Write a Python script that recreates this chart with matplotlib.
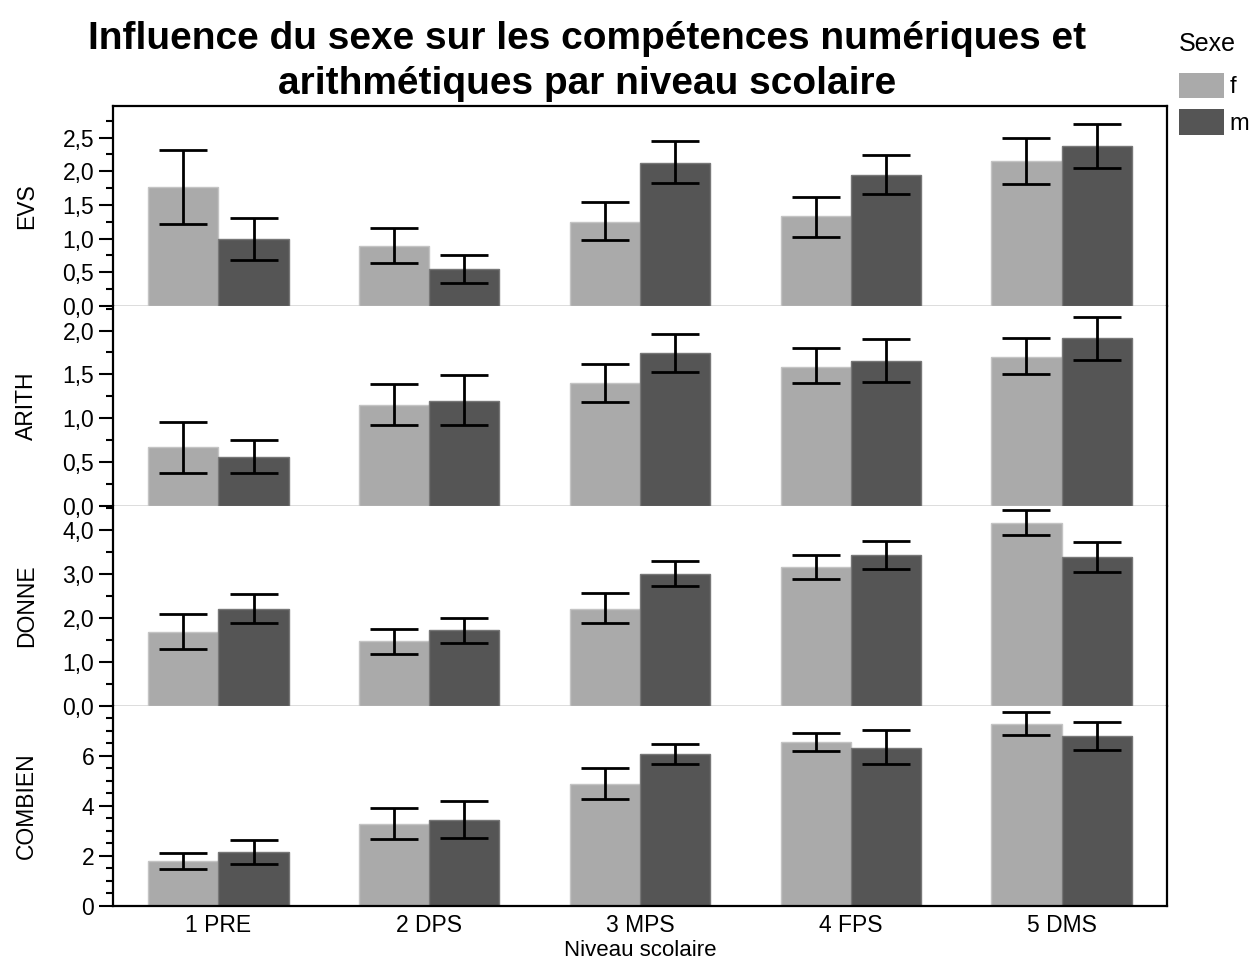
import numpy as np
import matplotlib
matplotlib.use("Agg")
import matplotlib.pyplot as plt
from matplotlib.patches import Patch
from matplotlib.ticker import FuncFormatter, MultipleLocator

plt.rcParams['font.family'] = ['Liberation Sans', 'DejaVu Sans']

# data
levels = ['1 PRE', '2 DPS', '3 MPS', '4 FPS', '5 DMS']
measures = ['EVS', 'ARITH', 'DONNE', 'COMBIEN']

# means, lower and upper bound of error bars, per measure, for f and m
evs_f = [1.77, 0.89, 1.25, 1.33, 2.15]
evs_f_lo = [1.22, 0.64, 0.98, 1.03, 1.81]
evs_f_hi = [2.32, 1.16, 1.54, 1.62, 2.50]
evs_m = [0.99, 0.55, 2.13, 1.95, 2.37]
evs_m_lo = [0.69, 0.34, 1.82, 1.67, 2.05]
evs_m_hi = [1.30, 0.76, 2.45, 2.24, 2.71]

arith_f = [0.67, 1.15, 1.40, 1.59, 1.70]
arith_f_lo = [0.38, 0.92, 1.19, 1.40, 1.50]
arith_f_hi = [0.96, 1.39, 1.62, 1.80, 1.92]
arith_m = [0.56, 1.20, 1.74, 1.65, 1.91]
arith_m_lo = [0.38, 0.92, 1.53, 1.41, 1.66]
arith_m_hi = [0.75, 1.49, 1.96, 1.90, 2.16]

donne_f = [1.69, 1.47, 2.21, 3.16, 4.16]
donne_f_lo = [1.29, 1.19, 1.88, 2.89, 3.89]
donne_f_hi = [2.09, 1.75, 2.58, 3.43, 4.45]
donne_m = [2.21, 1.72, 3.01, 3.43, 3.39]
donne_m_lo = [1.88, 1.44, 2.73, 3.12, 3.05]
donne_m_hi = [2.54, 2.00, 3.30, 3.75, 3.73]

combien_f = [1.80, 3.27, 4.87, 6.53, 7.28]
combien_f_lo = [1.48, 2.68, 4.26, 6.20, 6.83]
combien_f_hi = [2.13, 3.90, 5.50, 6.89, 7.75]
combien_m = [2.14, 3.42, 6.07, 6.32, 6.79]
combien_m_lo = [1.67, 2.70, 5.68, 5.66, 6.24]
combien_m_hi = [2.65, 4.17, 6.48, 7.01, 7.36]

panels = [
    (evs_f, evs_f_lo, evs_f_hi, evs_m, evs_m_lo, evs_m_hi),
    (arith_f, arith_f_lo, arith_f_hi, arith_m, arith_m_lo, arith_m_hi),
    (donne_f, donne_f_lo, donne_f_hi, donne_m, donne_m_lo, donne_m_hi),
    (combien_f, combien_f_lo, combien_f_hi, combien_m, combien_m_lo, combien_m_hi),
]
ylims = [2.97, 2.28, 4.55, 7.98]
major = [0.5, 0.5, 1.0, 2.0]
minor = [0.25, 0.25, 0.5, 0.5]
decimals = [1, 1, 1, 0]

col_f = '#aaaaaa'
col_m = '#555555'

fig = plt.figure(figsize=(12.54, 9.61), dpi=100)
left, right, bottom, top = 113/1254, 1167/1254, 55/961, 855/961
h = (top - bottom) / 4

x = np.arange(len(levels))
w = 1/3

for i, (vf, lf, hf, vm, lm, hm) in enumerate(panels):
    ax = fig.add_axes([left, top - (i+1)*h, right-left, h])
    vf, lf, hf = map(np.array, (vf, lf, hf))
    vm, lm, hm = map(np.array, (vm, lm, hm))
    ax.bar(x - w/2, vf, w, color=col_f, edgecolor='#c4c4c4', linewidth=1)
    ax.bar(x + w/2, vm, w, color=col_m, edgecolor='#777777', linewidth=1)
    ax.errorbar(x - w/2, vf, yerr=[vf - lf, hf - vf], fmt='none', ecolor='black',
                elinewidth=2, capsize=17.5, capthick=2)
    ax.errorbar(x + w/2, vm, yerr=[vm - lm, hm - vm], fmt='none', ecolor='black',
                elinewidth=2, capsize=17.5, capthick=2)
    ax.set_xlim(-0.5, len(levels) - 0.5)
    ax.set_ylim(0, ylims[i])
    ax.yaxis.set_major_locator(MultipleLocator(major[i]))
    ax.yaxis.set_minor_locator(MultipleLocator(minor[i]))
    d = decimals[i]
    ax.yaxis.set_major_formatter(FuncFormatter(lambda v, p, d=d: f'{v:.{d}f}'.replace('.', ',')))
    ax.tick_params(axis='y', which='major', length=10, width=1.5, labelsize=16.5, direction='out')
    ax.tick_params(axis='y', which='minor', length=5, width=1.5, direction='out')
    ax.set_ylabel(measures[i], fontsize=16.5)
    ax.yaxis.set_label_coords(-0.071, 0.5)
    for s in ['left', 'right', 'top', 'bottom']:
        ax.spines[s].set_linewidth(1.6)
    if i > 0:
        ax.spines['top'].set_visible(False)
    if i < 3:
        ax.spines['bottom'].set_visible(False)
        ax.axhline(0, color='#d9d9d9', linewidth=2, zorder=0.5)
        ax.tick_params(axis='x', which='both', length=0, labelbottom=False)
    else:
        ax.set_xticks(x)
        ax.set_xticklabels(levels, fontsize=16.5)
        ax.tick_params(axis='x', length=0, pad=6)
        ax.set_xlabel('Niveau scolaire', fontsize=16, labelpad=2)

fig.text(0.4685, 0.978, 'Influence du sexe sur les compétences numériques et\n'
         'arithmétiques par niveau scolaire', ha='center', va='top',
         fontsize=28, fontweight='bold', linespacing=1.33)

handles = [Patch(facecolor=col_f), Patch(facecolor=col_m)]
leg = fig.legend(handles, ['f', 'm'], title='Sexe', loc='upper left',
                 bbox_to_anchor=(1179/1254, 1 - 32/961), frameon=False,
                 fontsize=17, title_fontsize=18, handlelength=1.9,
                 handleheight=1.3, handletextpad=0.25, labelspacing=0.45,
                 borderaxespad=0, borderpad=0)
leg._legend_box.align = 'left'
leg._legend_box.sep = 12

fig.savefig('out.png', dpi=100)
